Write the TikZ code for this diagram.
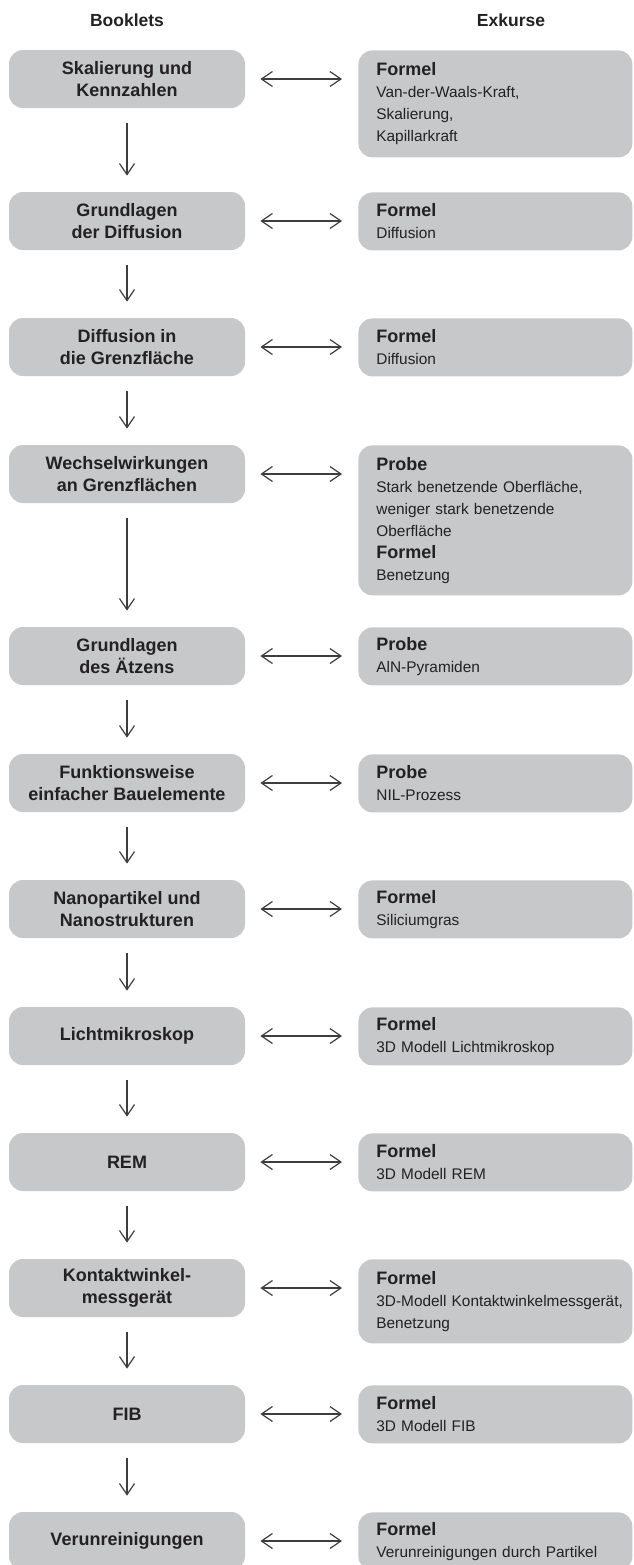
\documentclass[tikz,border=0pt]{standalone}
\usepackage{fontspec}
\setmainfont{Liberation Sans}
\usetikzlibrary{arrows.meta,positioning}

\definecolor{boxgray}{RGB}{199,200,202}
\definecolor{inkgray}{RGB}{35,33,34}
\definecolor{arrowgray}{RGB}{62,62,62}
\newcommand{\exhead}[1]{{\fontsize{9}{11}\selectfont\bfseries #1}}

\begin{document}
\begin{tikzpicture}[
    x=0.5pt, y=-0.5pt,
    header/.style={text=inkgray, font=\fontsize{8.75}{10}\selectfont\bfseries},
    booklet/.style={rectangle, rounded corners=7pt, fill=boxgray, text=inkgray, minimum width=118pt, minimum height=29pt, inner sep=0pt, align=center, font=\fontsize{9}{11.25}\selectfont\bfseries},
    exkurs/.style={rectangle, rounded corners=7pt, fill=boxgray, text=inkgray, anchor=north west, text width=119pt, minimum height=29pt, inner xsep=9pt, inner ysep=2pt, align=left, font=\fontsize{7.7}{11}\selectfont},
    arrow/.style={-{Straight Barb[length=5.5pt,width=7.5pt]}, draw=arrowgray, line width=0.6pt, shorten <=7.5pt, shorten >=8pt},
    link/.style={{Straight Barb[length=5.5pt,width=7.5pt]}-{Straight Barb[length=5.5pt,width=7.5pt]}, draw=arrowgray, line width=0.6pt, shorten <=7.5pt, shorten >=8pt}
  ]
    \useasboundingbox (0,0) rectangle (633,1565);

    \node[header] (hbook) at (127,20) {Booklets};
    \node[header] (hexk) at (511,20) {Exkurse};

    % Booklets
    \node[booklet] (b1) at (127,79) {Skalierung und\\Kennzahlen};
    \node[booklet] (b2) at (127,221) {Grundlagen\\der Diffusion};
    \node[booklet] (b3) at (127,347) {Diffusion in\\die Grenzfläche};
    \node[booklet] (b4) at (127,474) {Wechselwirkungen\\an Grenzflächen};
    \node[booklet] (b5) at (127,656) {Grundlagen\\des Ätzens};
    \node[booklet] (b6) at (127,783) {Funktionsweise\\einfacher Bauelemente};
    \node[booklet] (b7) at (127,909) {Nanopartikel und\\Nanostrukturen};
    \node[booklet] (b8) at (127,1036) {Lichtmikroskop};
    \node[booklet] (b9) at (127,1162) {REM};
    \node[booklet] (b10) at (127,1288) {Kontaktwinkel-\\messgerät};
    \node[booklet] (b11) at (127,1414) {FIB};
    \node[booklet] (b12) at (127,1541) {Verunreinigungen};

    % Exkurse
    \node[exkurs, minimum height=53.5pt] (e1) at (358,50) {\exhead{Formel}\\Van-der-Waals-Kraft,\\Skalierung,\\Kapillarkraft};
    \node[exkurs] (e2) at (358,192) {\exhead{Formel}\\Diffusion};
    \node[exkurs] (e3) at (358,318) {\exhead{Formel}\\Diffusion};
    \node[exkurs, minimum height=75pt] (e4) at (358,445) {\exhead{Probe}\\Stark benetzende Oberfläche,\\weniger stark benetzende\\Oberfläche\\\exhead{Formel}\\Benetzung};
    \node[exkurs] (e5) at (358,627) {\exhead{Probe}\\AlN-Pyramiden};
    \node[exkurs] (e6) at (358,754) {\exhead{Probe}\\NIL-Prozess};
    \node[exkurs] (e7) at (358,880) {\exhead{Formel}\\Siliciumgras};
    \node[exkurs] (e8) at (358,1007) {\exhead{Formel}\\3D Modell Lichtmikroskop};
    \node[exkurs] (e9) at (358,1133) {\exhead{Formel}\\3D Modell REM};
    \node[exkurs, minimum height=42pt] (e10) at (358,1259) {\exhead{Formel}\\\mbox{3D-Modell Kontaktwinkelmessgerät,}\\Benetzung};
    \node[exkurs] (e11) at (358,1385) {\exhead{Formel}\\3D Modell FIB};
    \node[exkurs] (e12) at (358,1512) {\exhead{Formel}\\Verunreinigungen durch Partikel};

    \draw[arrow] (b1) -- (b2);
    \draw[arrow] (b2) -- (b3);
    \draw[arrow] (b3) -- (b4);
    \draw[arrow] (b4) -- (b5);
    \draw[arrow] (b5) -- (b6);
    \draw[arrow] (b6) -- (b7);
    \draw[arrow] (b7) -- (b8);
    \draw[arrow] (b8) -- (b9);
    \draw[arrow] (b9) -- (b10);
    \draw[arrow] (b10) -- (b11);
    \draw[arrow] (b11) -- (b12);

    \draw[link] (b1.east) -- (b1.east -| e1.west);
    \draw[link] (b2.east) -- (b2.east -| e2.west);
    \draw[link] (b3.east) -- (b3.east -| e3.west);
    \draw[link] (b4.east) -- (b4.east -| e4.west);
    \draw[link] (b5.east) -- (b5.east -| e5.west);
    \draw[link] (b6.east) -- (b6.east -| e6.west);
    \draw[link] (b7.east) -- (b7.east -| e7.west);
    \draw[link] (b8.east) -- (b8.east -| e8.west);
    \draw[link] (b9.east) -- (b9.east -| e9.west);
    \draw[link] (b10.east) -- (b10.east -| e10.west);
    \draw[link] (b11.east) -- (b11.east -| e11.west);
    \draw[link] (b12.east) -- (b12.east -| e12.west);
\end{tikzpicture}
\end{document}
